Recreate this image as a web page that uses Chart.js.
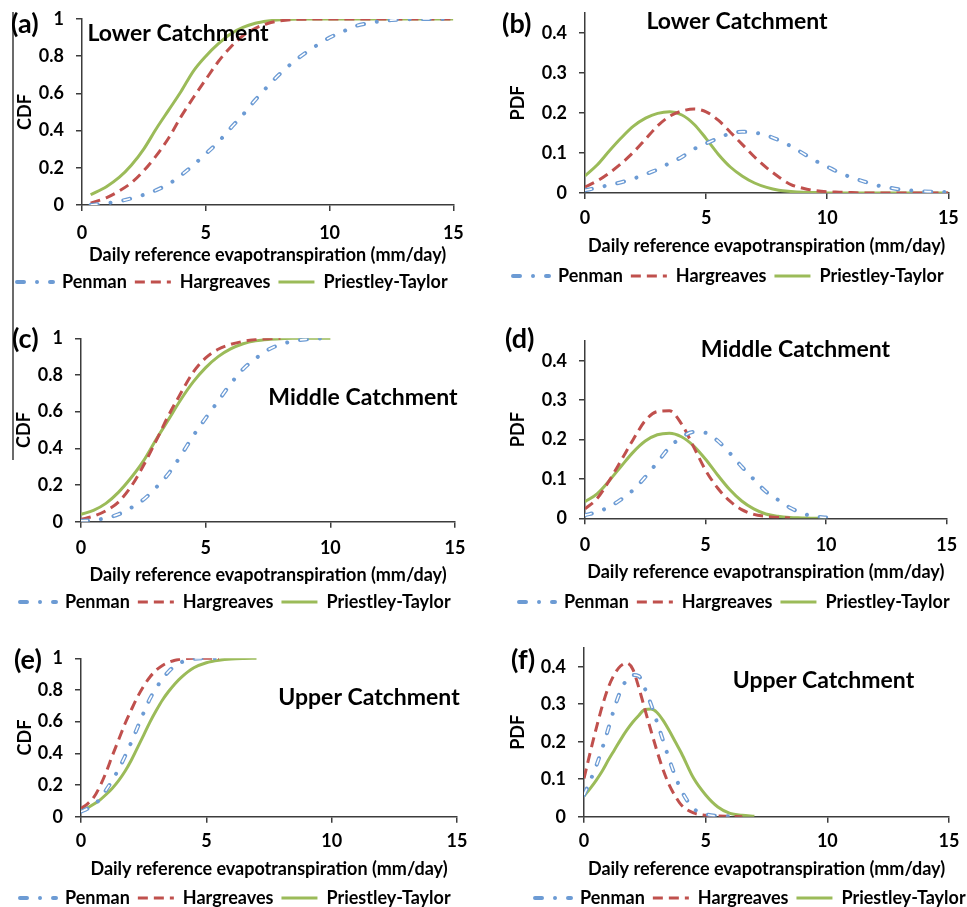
<!DOCTYPE html>
<html>
<head>
<meta charset="utf-8">
<script src="https://cdn.jsdelivr.net/npm/chart.js@4.4.1/dist/chart.umd.min.js"></script>
<style>
  html, body { margin: 0; padding: 0; background: #fff; overflow: hidden; }
  body { position: relative; width: 967px; height: 907px; }
  canvas { position: absolute; }
  .rule { position: absolute; left: 12px; top: 12px; width: 1.5px; height: 448px; background: #6b6b6b; }
</style>
</head>
<body>
<div class="rule"></div>
<canvas id="pa"></canvas>
<canvas id="pb"></canvas>
<canvas id="pc"></canvas>
<canvas id="pd"></canvas>
<canvas id="pe"></canvas>
<canvas id="pf"></canvas>
<script>
// ---- evapotranspiration values (mm/day) ----
const xLowerCdf = [0.35, 1, 1.5, 2, 2.5, 3, 3.5, 4, 4.5, 5, 5.5, 6, 6.5, 7, 7.5, 8, 8.5, 9, 9.5, 10, 10.5, 11, 11.5, 12, 12.5, 13, 13.5, 14, 14.5, 15];
const penmanLowerCdf = [0, 0.01, 0.02, 0.036, 0.055, 0.08, 0.113, 0.16, 0.215, 0.275, 0.338, 0.413, 0.485, 0.565, 0.638, 0.706, 0.765, 0.815, 0.86, 0.9, 0.93, 0.96, 0.976, 0.987, 0.994, 0.998, 0.999, 1, 1, 1];
const hargreavesLowerCdf = [0.01, 0.04, 0.075, 0.12, 0.185, 0.265, 0.36, 0.475, 0.578, 0.675, 0.77, 0.848, 0.91, 0.95, 0.976, 0.99, 0.997, 0.999, 1, 1, 1, 1, 1, 1, 1, 1, 1, 1, 1, 1];
const priestleyLowerCdf = [0.055, 0.1, 0.148, 0.215, 0.302, 0.41, 0.51, 0.61, 0.72, 0.8, 0.866, 0.92, 0.955, 0.977, 0.989, 0.996, 0.999, 1, 1, 1, 1, 1, 1, 1, 1, 1, 1, 1, 1, 1];

const xLowerPdf = [0, 0.5, 1, 1.5, 2, 2.5, 3, 3.5, 4, 4.5, 5, 5.5, 6, 6.5, 7, 7.5, 8, 8.5, 9, 9.5, 10, 10.5, 11, 11.5, 12, 12.5, 13, 13.5, 14, 14.5, 15];
const penmanLowerPdf = [0.007, 0.013, 0.02, 0.027, 0.036, 0.047, 0.059, 0.075, 0.09, 0.11, 0.124, 0.137, 0.149, 0.153, 0.151, 0.144, 0.132, 0.117, 0.099, 0.081, 0.066, 0.051, 0.039, 0.029, 0.02, 0.014, 0.009, 0.006, 0.004, 0.003, 0.002];
const hargreavesLowerPdf = [0.015, 0.03, 0.05, 0.074, 0.102, 0.135, 0.168, 0.192, 0.205, 0.21, 0.203, 0.182, 0.152, 0.121, 0.09, 0.063, 0.04, 0.021, 0.012, 0.006, 0.003, 0.002, 0.001, 0, 0, 0, 0, 0, 0, 0, 0];
const priestleyLowerPdf = [0.043, 0.07, 0.105, 0.138, 0.167, 0.187, 0.199, 0.203, 0.195, 0.172, 0.136, 0.097, 0.065, 0.042, 0.025, 0.014, 0.007, 0.004, 0.002, 0.001, 0, 0, 0, 0, 0, 0, 0, 0, 0, 0, 0];

const xMiddle = [0, 0.5, 1, 1.5, 2, 2.5, 3, 3.5, 4, 4.5, 5, 5.5, 6, 6.5, 7, 7.5, 8, 8.5, 9, 9.5, 10];
const penmanMiddleCdf = [0.005, 0.008, 0.02, 0.04, 0.075, 0.12, 0.185, 0.26, 0.36, 0.468, 0.565, 0.658, 0.752, 0.832, 0.89, 0.937, 0.967, 0.984, 0.994, 0.999, 1];
const hargreavesMiddleCdf = [0.013, 0.03, 0.06, 0.107, 0.19, 0.305, 0.438, 0.577, 0.7, 0.815, 0.893, 0.94, 0.967, 0.983, 0.993, 0.998, 1];
const priestleyMiddleCdf = [0.04, 0.062, 0.1, 0.16, 0.238, 0.33, 0.445, 0.555, 0.665, 0.762, 0.84, 0.9, 0.942, 0.97, 0.986, 0.994, 0.998, 1, 1, 1, 1];
const penmanMiddlePdf = [0.008, 0.016, 0.029, 0.048, 0.072, 0.105, 0.142, 0.18, 0.205, 0.219, 0.217, 0.197, 0.166, 0.131, 0.099, 0.068, 0.047, 0.027, 0.013, 0.005, 0.002];
const hargreavesMiddlePdf = [0.024, 0.05, 0.095, 0.147, 0.2, 0.248, 0.271, 0.273, 0.24, 0.182, 0.122, 0.077, 0.044, 0.022, 0.01, 0.005, 0.002, 0.001];
const priestleyMiddlePdf = [0.042, 0.062, 0.095, 0.132, 0.168, 0.196, 0.212, 0.216, 0.207, 0.184, 0.15, 0.11, 0.073, 0.044, 0.024, 0.011, 0.005, 0.002, 0.001, 0, 0];

const xUpper = [0, 0.25, 0.5, 0.75, 1, 1.25, 1.5, 1.75, 2, 2.25, 2.5, 2.75, 3, 3.25, 3.5, 3.75, 4, 4.5, 5, 5.5, 6, 6.5, 7];
const penmanUpperCdf = [0.032, 0.05, 0.075, 0.11, 0.168, 0.23, 0.3, 0.38, 0.468, 0.562, 0.657, 0.745, 0.813, 0.87, 0.918, 0.952, 0.975, 0.997, 1, 1];
const hargreavesUpperCdf = [0.053, 0.08, 0.12, 0.19, 0.28, 0.385, 0.485, 0.585, 0.672, 0.755, 0.825, 0.882, 0.925, 0.955, 0.975, 0.988, 0.995, 1, 1, 1];
const priestleyUpperCdf = [0.038, 0.055, 0.078, 0.105, 0.14, 0.18, 0.228, 0.285, 0.355, 0.435, 0.515, 0.597, 0.67, 0.737, 0.792, 0.84, 0.88, 0.94, 0.972, 0.988, 0.996, 0.999, 1];
const penmanUpperPdf = [0.058, 0.095, 0.135, 0.182, 0.235, 0.29, 0.335, 0.365, 0.378, 0.375, 0.342, 0.3, 0.252, 0.203, 0.153, 0.108, 0.07, 0.022, 0.007, 0.002, 0.001];
const hargreavesUpperPdf = [0.102, 0.17, 0.235, 0.295, 0.345, 0.38, 0.402, 0.41, 0.394, 0.345, 0.287, 0.23, 0.175, 0.125, 0.085, 0.055, 0.031, 0.01, 0.004, 0.002, 0.001, 0];
const priestleyUpperPdf = [0.055, 0.075, 0.097, 0.122, 0.151, 0.178, 0.205, 0.23, 0.252, 0.27, 0.286, 0.287, 0.278, 0.257, 0.23, 0.2, 0.17, 0.103, 0.058, 0.026, 0.009, 0.004, 0.001];

const xTicks = [0, 5, 10, 15];

// ---- styling ----
const BLUE = '#6c9bd4';
const RED = '#c0504d';
const GREEN = '#9bbb59';
const AXIS = '#3c3c3c';
const FAMILY = 'Lato, "Open Sans", sans-serif';
const FS = 18;                  // tick, axis title and legend size
const LEGEND_H = FS + 8 + 10;   // one legend row + padding + the legend's own 10px

Chart.defaults.font.family = FAMILY;
Chart.defaults.font.weight = 'bold';
Chart.defaults.font.size = FS;
Chart.defaults.color = '#000';

function pts(xs, ys) {
  return ys.map((y, i) => ({ x: xs[i], y: y }));
}

function lineSets(xs, penman, hargreaves, priestley) {
  const base = { pointRadius: 0, pointHoverRadius: 0, fill: false, cubicInterpolationMode: 'monotone' };
  return [
    // white core that makes the Penman dashes look hollow
    Object.assign({}, base, { label: '', data: pts(xs, penman), borderColor: '#fff', backgroundColor: '#fff',
      borderWidth: 1.6, borderDash: [7, 26.01], borderCapStyle: 'butt' }),
    Object.assign({}, base, { label: 'Penman', data: pts(xs, penman), borderColor: BLUE, backgroundColor: BLUE,
      borderWidth: 4, borderDash: [7, 13, 0.01, 13], borderCapStyle: 'round' }),
    Object.assign({}, base, { label: 'Hargreaves', data: pts(xs, hargreaves), borderColor: RED, backgroundColor: RED,
      borderWidth: 3, borderDash: [10, 6], borderCapStyle: 'butt' }),
    Object.assign({}, base, { label: 'Priestley-Taylor', data: pts(xs, priestley), borderColor: GREEN, backgroundColor: GREEN,
      borderWidth: 3, borderDash: [], borderCapStyle: 'butt' })
  ];
}

// panel letter and catchment name
function textPlugin(items) {
  return {
    id: 'panelText',
    afterDraw(chart) {
      const ctx = chart.ctx;
      ctx.save();
      ctx.fillStyle = '#000';
      ctx.textBaseline = 'alphabetic';
      items.forEach(t => {
        ctx.font = 'bold ' + t.size + 'px ' + FAMILY;
        ctx.textAlign = t.align;
        ctx.fillText(t.text, t.x, t.y);
      });
      ctx.restore();
    }
  };
}

// move the legend row so its first sample starts at (x, y-centre)
function legendAt(x, y) {
  return {
    id: 'legendAt',
    afterLayout(chart) {
      const lg = chart.legend;
      const pad = lg.options.labels.padding;
      const dx = x - (lg.left + pad);
      const dy = y - (lg.top + pad + FS / 2);
      lg.left += dx; lg.right += dx;
      lg.top += dy; lg.bottom += dy;
    }
  };
}

function tickText(v) {
  return String(Number(v.toFixed(2)));
}

function makePanel(p) {
  const g = p.geo;
  const half = FS * 0.6;
  const xH = g.titleY - g.plotB + 12;
  const h = Math.ceil(g.plotB - g.top + xH + LEGEND_H + 6);
  const canvas = document.getElementById(p.id);
  canvas.width = g.w;
  canvas.height = h;
  canvas.style.left = g.left + 'px';
  canvas.style.top = g.top + 'px';
  canvas.style.width = g.w + 'px';
  canvas.style.height = h + 'px';

  const padT = g.plotT - g.top;
  const padR = g.left + g.w - g.plotR;
  const padB = g.top + h - g.plotB - xH - LEGEND_H;
  const yW = g.plotL - g.left;
  const tickFont = { family: FAMILY, size: FS, weight: 'bold' };

  new Chart(canvas, {
    type: 'line',
    data: { datasets: lineSets(p.xs, p.series[0], p.series[1], p.series[2]) },
    options: {
      responsive: false,
      animation: false,
      devicePixelRatio: 1,
      layout: { padding: { left: 0, top: padT, right: padR, bottom: padB } },
      plugins: {
        tooltip: { enabled: false },
        legend: {
          position: 'bottom',
          align: 'start',
          labels: {
            usePointStyle: true,
            pointStyle: 'line',
            pointStyleWidth: 36,
            padding: 8,
            color: '#000',
            font: tickFont,
            filter: item => item.text !== '',
            generateLabels(chart) {
              const items = Chart.defaults.plugins.legend.labels.generateLabels(chart);
              items.forEach(it => {
                const ds = chart.data.datasets[it.datasetIndex];
                it.lineDash = ds.borderDash;
                it.lineWidth = ds.borderWidth;
                it.lineCap = ds.borderCapStyle;
                it.strokeStyle = ds.borderColor;
              });
              return items;
            }
          }
        }
      },
      scales: {
        x: {
          type: 'linear',
          min: 0,
          max: 15,
          afterBuildTicks(scale) { scale.ticks = xTicks.map(v => ({ value: v })); },
          ticks: { padding: g.tickY - g.plotB - 6 - half, color: '#000', font: tickFont },
          grid: { drawOnChartArea: false, drawTicks: true, tickLength: 6, color: AXIS, lineWidth: 1.5 },
          border: { display: true, color: AXIS, width: 1.5 },
          title: { display: true, text: 'Daily reference evapotranspiration (mm/day)', color: '#000',
            font: tickFont, padding: { top: 0, bottom: 12 - half } },
          afterFit(scale) { scale.height = xH; }
        },
        y: {
          min: 0,
          max: p.yMax,
          ticks: { stepSize: p.yStep, includeBounds: false, padding: 12, color: '#000', font: tickFont,
            callback: tickText },
          afterBuildTicks(scale) { scale.ticks = scale.ticks.filter(t => t.value <= p.yTop + 1e-9); },
          grid: { drawOnChartArea: false, drawTicks: true, tickLength: 6, color: AXIS, lineWidth: 1.5 },
          border: { display: true, color: AXIS, width: 1.5 },
          title: { display: true, text: p.yTitle, color: '#000', font: tickFont,
            padding: { top: g.yTitleX - g.left - half, bottom: 0 } },
          afterFit(scale) { scale.width = yW; }
        }
      }
    },
    plugins: [
      legendAt(g.legendX - g.left, g.legendY - g.top),
      textPlugin([
        { text: p.letter, x: p.letterAt[0] - g.left, y: p.letterAt[1] - g.top, size: 27, align: 'left' },
        { text: p.caption, x: p.captionAt[0] - g.left, y: p.captionAt[1] - g.top, size: 23, align: 'center' }
      ])
    ]
  });
}

const panels = [
  { id: 'pa', xs: xLowerCdf, series: [penmanLowerCdf, hargreavesLowerCdf, priestleyLowerCdf],
    yMax: 1, yTop: 1, yStep: 0.2, yTitle: 'CDF', letter: '(a)', letterAt: [11, 33],
    caption: 'Lower Catchment', captionAt: [178, 40.5],
    geo: { left: 0, top: -20, w: 475, plotL: 82, plotR: 461, plotT: 19, plotB: 205,
      tickY: 233, titleY: 255, legendX: 17, legendY: 282, yTitleX: 25 } },
  { id: 'pb', xs: xLowerPdf, series: [penmanLowerPdf, hargreavesLowerPdf, priestleyLowerPdf],
    yMax: 0.45, yTop: 0.4, yStep: 0.1, yTitle: 'PDF', letter: '(b)', letterAt: [502, 33],
    caption: 'Lower Catchment', captionAt: [737, 29.3],
    geo: { left: 480, top: -20, w: 487, plotL: 585, plotR: 956, plotT: 13, plotB: 193,
      tickY: 218, titleY: 246, legendX: 513, legendY: 276, yTitleX: 518 } },
  { id: 'pc', xs: xMiddle, series: [penmanMiddleCdf, hargreavesMiddleCdf, priestleyMiddleCdf],
    yMax: 1, yTop: 1, yStep: 0.2, yTitle: 'CDF', letter: '(c)', letterAt: [12, 348],
    caption: 'Middle Catchment', captionAt: [363, 405],
    geo: { left: 0, top: 300, w: 475, plotL: 81, plotR: 462, plotT: 338.3, plotB: 521.7,
      tickY: 548, titleY: 575, legendX: 20, legendY: 602, yTitleX: 24 } },
  { id: 'pd', xs: xMiddle, series: [penmanMiddlePdf, hargreavesMiddlePdf, priestleyMiddlePdf],
    yMax: 0.45, yTop: 0.4, yStep: 0.1, yTitle: 'PDF', letter: '(d)', letterAt: [505, 348],
    caption: 'Middle Catchment', captionAt: [795.5, 357.3],
    geo: { left: 480, top: 300, w: 487, plotL: 585, plotR: 956, plotT: 341, plotB: 518.3,
      tickY: 545, titleY: 572, legendX: 519, legendY: 602, yTitleX: 518 } },
  { id: 'pe', xs: xUpper, series: [penmanUpperCdf, hargreavesUpperCdf, priestleyUpperCdf],
    yMax: 1, yTop: 1, yStep: 0.2, yTitle: 'CDF', letter: '(e)', letterAt: [14, 669],
    caption: 'Upper Catchment', captionAt: [369, 705],
    geo: { left: 0, top: 610, w: 475, plotL: 81, plotR: 462, plotT: 658.3, plotB: 816.7,
      tickY: 841, titleY: 869, legendX: 20, legendY: 898, yTitleX: 25 } },
  { id: 'pf', xs: xUpper, series: [penmanUpperPdf, hargreavesUpperPdf, priestleyUpperPdf],
    yMax: 0.45, yTop: 0.4, yStep: 0.1, yTitle: 'PDF', letter: '(f)', letterAt: [511, 669],
    caption: 'Upper Catchment', captionAt: [823.5, 688.3],
    geo: { left: 480, top: 610, w: 487, plotL: 584, plotR: 956, plotT: 648, plotB: 816.7,
      tickY: 841, titleY: 869, legendX: 535, legendY: 898, yTitleX: 518 } }
];

panels.forEach(makePanel);
</script>
</body>
</html>
